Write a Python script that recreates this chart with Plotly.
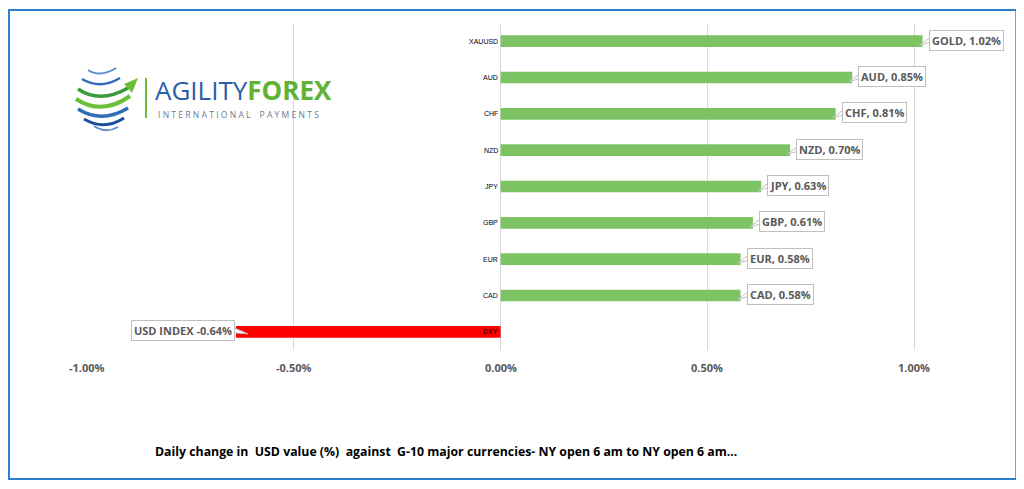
import plotly.graph_objects as go

# ---- data ----
categories = ["XAUUSD", "AUD", "CHF", "NZD", "JPY", "GBP", "EUR", "CAD", "DXY"]
values = [1.02, 0.85, 0.81, 0.70, 0.63, 0.61, 0.58, 0.58, -0.64]
label_names = ["GOLD", "AUD", "CHF", "NZD", "JPY", "GBP", "EUR", "CAD", "USD INDEX"]
tick_vals = [-1.0, -0.5, 0.0, 0.5, 1.0]
tick_text = ["-1.00%", "-0.50%", "0.00%", "0.50%", "1.00%"]
caption = "Daily change in  USD value (%)  against  G-10 major currencies- NY open 6 am to NY open 6 am..."

# ---- layout geometry (page pixels; the page body adds an 8px offset) ----
OFF = 8
W, H = 1024 - OFF, 489 - OFF
# plot area in page pixels
PL, PR, PT, PB = 87, 996.7, 23, 350
ML, MR, MT, MB = PL - OFF, (W + OFF) - PR, PT - OFF, (H + OFF) - PB
PW, PH = PR - PL, PB - PT


def px(x):
    return (x - PL) / PW


def py(y):
    return (PB - y) / PH


GREEN = "#7cc463"
RED = "#ff0000"
colors = [RED if v < 0 else GREEN for v in values]

fig = go.Figure(go.Bar(
    x=values, y=categories, orientation="h",
    marker=dict(color=colors, line=dict(width=0)),
    width=0.32, hoverinfo="x+y",
))

annotations = []
shapes = []

# category labels next to zero line
for c in categories:
    annotations.append(dict(x=0, y=c, xref="x", yref="y", text=c, showarrow=False,
                            xanchor="right", xshift=-1,
                            font=dict(family="Liberation Sans", size=7, color="#000000")))

# data labels (callouts)
for c, v, n in zip(categories, values, label_names):
    if v >= 0:
        txt = f"{n}, {v:.2f}%"
        annotations.append(dict(x=v, y=c, xref="x", yref="y", text=f"<b>{txt}</b>",
                                showarrow=False, xanchor="left", xshift=6, yshift=1,
                                bgcolor="white", bordercolor="#bfbfbf", borderwidth=1, borderpad=2,
                                font=dict(family="Open Sans", size=11, color="#595959")))
        shapes.append(dict(type="path", xref="x", yref="y", xsizemode="pixel", ysizemode="pixel",
                           xanchor=v, yanchor=c, path="M 8,-1 L 8,4 L -3,-4 Z",
                           fillcolor="white", line=dict(color="#bfbfbf", width=1), layer="above"))
    else:
        txt = f"{n} {v:.2f}%"
        annotations.append(dict(x=v, y=c, xref="x", yref="y", text=f"<b>{txt}</b>",
                                showarrow=False, xanchor="right", xshift=-1, yshift=1,
                                bgcolor="white", bordercolor="#bfbfbf", borderwidth=1, borderpad=2,
                                font=dict(family="Open Sans", size=11, color="#595959")))
        shapes.append(dict(type="path", xref="x", yref="y", xsizemode="pixel", ysizemode="pixel",
                           xanchor=v, yanchor=c, path="M -2,4 L -2,-1 L 12,-2 Z",
                           fillcolor="white", line=dict(color="#bfbfbf", width=1), layer="above"))

# x tick labels
for tv, tt in zip(tick_vals, tick_text):
    annotations.append(dict(x=tv, y=py(367), xref="x", yref="paper", text=f"<b>{tt}</b>",
                            showarrow=False, xanchor="center", yanchor="middle",
                            font=dict(family="Open Sans", size=11, color="#595959")))

# caption
annotations.append(dict(x=px(153), y=py(451), xref="paper", yref="paper", text=f"<b>{caption}</b>",
                        showarrow=False, xanchor="left", yanchor="middle",
                        font=dict(family="Open Sans", size=12.3, color="#000000")))

# outer blue frame
shapes.append(dict(type="rect", xref="paper", yref="paper", x0=px(9), x1=px(1016), y0=py(479), y1=py(10),
                   line=dict(color="#2b7fd0", width=2), fillcolor="rgba(0,0,0,0)", layer="below"))


# ---- logo ----
def arc(x0, y0, cx, cy, x1, y1):
    return f"M {px(x0)},{py(y0)} Q {px(cx)},{py(cy)} {px(x1)},{py(y1)}"


logo_arcs = [
    (88, 70, 100, 78, 116, 68, "#5b8fd0", 2),
    (82, 79, 100, 90, 120, 78, "#2f6db8", 2.5),
    (78, 89, 100, 104, 128, 88, "#3b9a3a", 3.5),
    (76, 99, 102, 116, 130, 96, "#6cbf3a", 4),
    (78, 109, 102, 124, 128, 108, "#2f6db8", 3.5),
    (84, 119, 104, 131, 124, 118, "#1f4f9c", 3),
    (94, 126, 106, 134, 118, 127, "#5b8fd0", 2),
]
for x0, y0, cx, cy, x1, y1, col, wd in logo_arcs:
    shapes.append(dict(type="path", xref="paper", yref="paper", path=arc(x0, y0, cx, cy, x1, y1),
                       line=dict(color=col, width=wd), fillcolor="rgba(0,0,0,0)"))
# arrow head
shapes.append(dict(type="path", xref="paper", yref="paper",
                   path=f"M {px(124)},{py(84)} L {px(138)},{py(78)} L {px(132)},{py(93)} Z",
                   fillcolor="#6cbf3a", line=dict(width=0)))
# vertical green bar
shapes.append(dict(type="line", xref="paper", yref="paper", x0=px(146), x1=px(146), y0=py(78), y1=py(118),
                   line=dict(color="#6cbf3a", width=2)))
annotations.append(dict(x=px(153), y=py(90), xref="paper", yref="paper",
                        text="<span style='color:#2a5ea8'>AGILITY</span><span style='color:#5fb234'><b>FOREX</b></span>",
                        showarrow=False, xanchor="left", yanchor="middle",
                        font=dict(family="Open Sans", size=26)))
annotations.append(dict(x=px(156), y=py(115), xref="paper", yref="paper",
                        text="I N T E R N A T I O N A L    P A Y M E N T S",
                        showarrow=False, xanchor="left", yanchor="middle",
                        font=dict(family="Open Sans", size=8.6, color="#6d7b8c")))

fig.update_layout(
    width=W, height=H,
    margin=dict(l=ML, r=MR, t=MT, b=MB),
    paper_bgcolor="white", plot_bgcolor="white",
    showlegend=False,
    xaxis=dict(range=[-1.0, 1.2], tickvals=tick_vals, showticklabels=False,
               showgrid=True, gridcolor="#d9d9d9", gridwidth=1, zeroline=False, showline=False,
               fixedrange=True),
    yaxis=dict(categoryorder="array", categoryarray=categories[::-1], showticklabels=False,
               showgrid=False, zeroline=False, showline=False, fixedrange=True),
    annotations=annotations,
    shapes=shapes,
)

fig.write_html("out.html")
